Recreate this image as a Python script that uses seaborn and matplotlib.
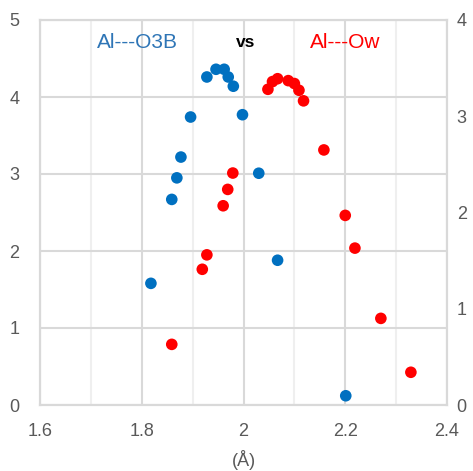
import matplotlib.pyplot as plt
import numpy as np
import pandas as pd
import seaborn as sns
from matplotlib.ticker import MultipleLocator

# Al---O3B distances (left axis)
o3b_x = [1.818, 1.859, 1.869, 1.877, 1.896, 1.928, 1.946, 1.962, 1.970, 1.980,
         1.998, 2.030, 2.067, 2.201]
o3b_y = [1.58, 2.67, 2.95, 3.22, 3.74, 4.26, 4.36, 4.36, 4.26, 4.14,
         3.77, 3.01, 1.88, 0.12]

# Al---Ow distances (right axis)
ow_x = [1.859, 1.919, 1.928, 1.960, 1.969, 1.979, 2.048, 2.057, 2.067, 2.088,
        2.100, 2.109, 2.118, 2.158, 2.200, 2.219, 2.270, 2.329]
ow_y = [0.63, 1.41, 1.56, 2.07, 2.24, 2.41, 3.28, 3.36, 3.39, 3.37,
        3.34, 3.27, 3.16, 2.65, 1.97, 1.63, 0.90, 0.34]

left_ticks = [0, 1, 2, 3, 4, 5]
right_ticks = [0, 1, 2, 3, 4]
x_ticks = [1.6, 1.8, 2.0, 2.2, 2.4]
x_labels = ["1.6", "1.8", "2", "2.2", "2.4"]

df_o3b = pd.DataFrame({"x": o3b_x, "y": o3b_y})
df_ow = pd.DataFrame({"x": ow_x, "y": ow_y})

sns.set_style("white")
plt.rcParams["font.family"] = ["Liberation Sans", "DejaVu Sans"]

grid_c = "#d9d9d9"
tick_c = "#595959"

fig = plt.figure(figsize=(4.73, 4.71), dpi=100)
ax = fig.add_axes([40 / 473, 1 - 405 / 471, 407 / 473, 385 / 471])
ax2 = ax.twinx()

# Grid
ax.set_xlim(1.6, 2.4)
ax.set_ylim(0, 5)
ax2.set_ylim(0, 4)
ax.xaxis.set_minor_locator(MultipleLocator(0.1))
ax.grid(True, which="major", axis="both", color=grid_c, lw=1.5)
ax.grid(True, which="minor", axis="x", color="#efefef", lw=1.5)
ax.set_axisbelow(True)

sns.scatterplot(data=df_o3b, x="x", y="y", ax=ax, color="#0070c0", s=70,
                edgecolor="none", zorder=3)
sns.scatterplot(data=df_ow, x="x", y="y", ax=ax2, color="#ff0000", s=70,
                edgecolor="none", zorder=3)

ax.set_xticks(x_ticks)
ax.set_xticklabels(x_labels)
ax.set_yticks(left_ticks)
ax2.set_yticks(right_ticks)
ax.set_ylabel("")
ax2.set_ylabel("")
ax.set_xlabel("(Å)", fontsize=13, color=tick_c, labelpad=7)

ax.tick_params(axis="x", which="both", length=0, pad=13, labelsize=13, labelcolor=tick_c)
ax.tick_params(axis="y", length=0, pad=15, labelsize=13, labelcolor=tick_c)
ax2.tick_params(axis="y", length=0, pad=7, labelsize=13, labelcolor=tick_c)

for a in (ax, ax2):
    for sp in a.spines.values():
        sp.set_color(grid_c)
        sp.set_linewidth(1.5)

ax.text(0.24, 0.942, "Al---O3B", transform=ax.transAxes, ha="center", va="center",
        fontsize=15, color="#2e75b6")
ax.text(0.506, 0.942, "vs", transform=ax.transAxes, ha="center", va="center",
        fontsize=12.5, fontweight="bold", color="black")
ax.text(0.75, 0.942, "Al---Ow", transform=ax.transAxes, ha="center", va="center",
        fontsize=15, color="#ff0000")

fig.savefig("out.png", dpi=100)
